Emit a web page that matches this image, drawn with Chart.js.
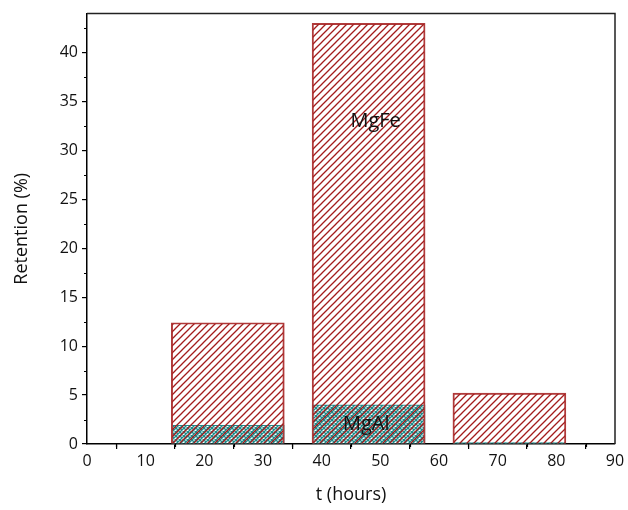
<!DOCTYPE html>
<html>
<head>
<meta charset="utf-8">
<script src="https://cdn.jsdelivr.net/npm/chart.js@4/dist/chart.umd.min.js"></script>
<style>
  html, body { margin: 0; padding: 0; background: #fff; }
  #wrap { width: 628px; height: 510px; }
</style>
</head>
<body>
<div id="wrap"><canvas id="retention" width="628" height="510"></canvas></div>
<script>
// data
var hours = [24, 48, 72];
var mgFe = [12.4, 43.0, 5.2];
var mgAl = [1.9, 4.0, 0.15];
var xTicks = [0, 10, 20, 30, 40, 50, 60, 70, 80, 90];
var yTicks = [0, 5, 10, 15, 20, 25, 30, 35, 40];

// in-plot labels (text, x in hours, y in %)
var labelText = ['MgFe', 'MgAl'];
var labelX = [49.2, 47.6];
var labelY = [33.0, 2.0];

var FONT = "'Open Sans', 'DejaVu Sans', sans-serif";

function diagHatch() {
    var c = document.createElement('canvas');
    c.width = 7; c.height = 7;
    var g = c.getContext('2d');
    g.strokeStyle = '#a31c1c';
    g.lineWidth = 1.3;
    g.beginPath();
    g.moveTo(-1, 8); g.lineTo(8, -1);
    g.moveTo(-1, 1); g.lineTo(1, -1);
    g.moveTo(6, 8); g.lineTo(8, 6);
    g.stroke();
    return g.createPattern(c, 'repeat');
}

function crossHatch() {
    var c = document.createElement('canvas');
    c.width = 4; c.height = 4;
    var g = c.getContext('2d');
    g.fillStyle = '#ffffff';
    g.fillRect(0, 0, 4, 4);
    g.strokeStyle = '#1c8c8c';
    g.lineWidth = 1.4;
    g.beginPath();
    g.moveTo(-1, 5); g.lineTo(5, -1);
    g.moveTo(-1, -1); g.lineTo(5, 5);
    g.stroke();
    return g.createPattern(c, 'repeat');
}

// box top/right, minor ticks and bar labels
var extras = {
    id: 'extras',
    afterDraw: function(chart) {
        var ctx = chart.ctx;
        var a = chart.chartArea;
        var xs = chart.scales.x, ys = chart.scales.y;
        ctx.save();
        ctx.strokeStyle = '#222';
        ctx.lineWidth = 1.5;
        ctx.beginPath();
        ctx.moveTo(a.left, a.top);
        ctx.lineTo(a.right, a.top);
        ctx.lineTo(a.right, a.bottom);
        ctx.stroke();

        ctx.strokeStyle = '#000';
        ctx.lineWidth = 1.2;
        ctx.beginPath();
        for (var i = 0; i < xTicks.length - 1; i++) {
            var px = Math.round(xs.getPixelForValue(xTicks[i] + 5)) + 0.5;
            ctx.moveTo(px, a.bottom);
            ctx.lineTo(px, a.bottom + 3);
        }
        for (var j = 0; j < yTicks.length; j++) {
            var py = Math.round(ys.getPixelForValue(yTicks[j] + 2.5)) + 0.5;
            ctx.moveTo(a.left, py);
            ctx.lineTo(a.left - 3, py);
        }
        ctx.stroke();

        ctx.fillStyle = '#111';
        ctx.font = '20px ' + FONT;
        ctx.textAlign = 'center';
        ctx.textBaseline = 'middle';
        for (var k = 0; k < labelText.length; k++) {
            ctx.fillText(labelText[k], xs.getPixelForValue(labelX[k]), ys.getPixelForValue(labelY[k]));
        }
        ctx.restore();
    }
};

var ctx = document.getElementById('retention');

new Chart(ctx, {
    type: 'bar',
    data: {
        labels: hours,
        datasets: [{
            label: 'MgFe',
            data: hours.map(function(h, i) { return { x: h, y: mgFe[i] }; }),
            backgroundColor: diagHatch(),
            borderColor: '#b03a3a',
            borderWidth: 1.3,
            order: 1
        }, {
            label: 'MgAl',
            data: hours.map(function(h, i) { return { x: h, y: mgAl[i] }; }),
            backgroundColor: crossHatch(),
            borderColor: '#1c8c8c',
            borderWidth: 1,
            order: 2
        }]
    },
    options: {
        responsive: false,
        animation: false,
        grouped: false,
        barThickness: 113,
        layout: { padding: { top: 12, right: 13, left: 0, bottom: 0 } },
        plugins: {
            legend: { display: false },
            tooltip: { enabled: false }
        },
        scales: {
            x: {
                type: 'linear',
                offset: false,
                min: 0,
                max: 90,
                afterBuildTicks: function(axis) {
                    axis.ticks = xTicks.map(function(v) { return { value: v }; });
                },
                afterFit: function(scale) { scale.height = 66; },
                grid: { drawOnChartArea: false, color: '#000', tickLength: 5, lineWidth: 1.2 },
                border: { color: '#000', width: 1.5 },
                ticks: { color: '#111', font: { family: FONT, size: 16 }, padding: 3, maxRotation: 0 },
                title: {
                    display: true,
                    text: 't (hours)',
                    color: '#111',
                    font: { family: FONT, size: 18 },
                    padding: { top: 0, bottom: 4 }
                }
            },
            y: {
                min: 0,
                max: 44,
                afterBuildTicks: function(axis) {
                    axis.ticks = yTicks.map(function(v) { return { value: v }; });
                },
                afterFit: function(scale) { scale.width = 87; },
                grid: { drawOnChartArea: false, color: '#000', tickLength: 5, lineWidth: 1.2 },
                border: { color: '#000', width: 1.5 },
                ticks: { color: '#111', font: { family: FONT, size: 16 }, padding: 4 },
                title: {
                    display: true,
                    text: 'Retention (%)',
                    color: '#111',
                    font: { family: FONT, size: 18 },
                    padding: { top: 11, bottom: 0 }
                }
            }
        }
    },
    plugins: [extras]
});
</script>
</body>
</html>
